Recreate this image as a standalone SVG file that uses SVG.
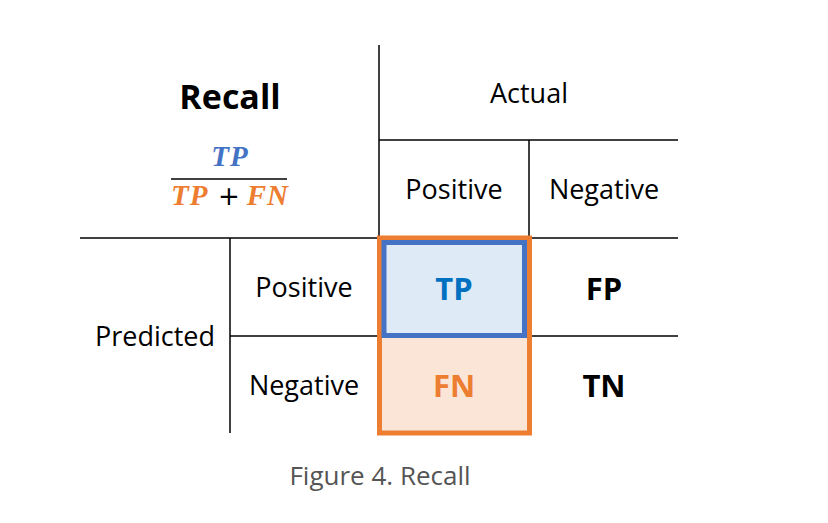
<svg xmlns="http://www.w3.org/2000/svg" width="828" height="523" viewBox="0 0 828 523">
  <style>
    .grid { stroke: #000; stroke-width: 1.5; fill: none; }
    .lbl { font-family: "Open Sans", "Liberation Sans", sans-serif; font-size: 27px; fill: #000; text-anchor: middle; }
    .cell { font-family: "Open Sans", "Liberation Sans", sans-serif; font-size: 31px; font-weight: bold; text-anchor: middle; }
    .math { font-family: "Liberation Serif", serif; font-size: 29px; font-weight: bold; font-style: italic; letter-spacing: 1px; }
  </style>
  <rect width="828" height="523" fill="#fff"/>

  <g id="connectors">
    <line class="grid" x1="379" y1="45" x2="379" y2="433"/>
    <line class="grid" x1="379" y1="140" x2="678" y2="140"/>
    <line class="grid" x1="529" y1="140" x2="529" y2="433"/>
    <line class="grid" x1="80" y1="238" x2="678" y2="238"/>
    <line class="grid" x1="230" y1="238" x2="230" y2="433"/>
    <line class="grid" x1="230" y1="336" x2="678" y2="336"/>
  </g>

  <g id="title">
    <text x="230" y="109" font-family="Open Sans, Liberation Sans, sans-serif" font-size="34" font-weight="bold" text-anchor="middle">Recall</text>
  </g>

  <g id="formula">
    <text class="math" x="230" y="166" text-anchor="middle" fill="#4472C4">TP</text>
    <line x1="171" y1="179" x2="287" y2="179" stroke="#000" stroke-width="1.5"/>
    <text class="math" x="171" y="205" fill="#ED7D31">TP</text>
    <text x="229" y="205" font-family="DejaVu Sans, sans-serif" font-size="26" fill="#000" text-anchor="middle">+</text>
    <text class="math" x="289" y="205" fill="#ED7D31" text-anchor="end">FN</text>
  </g>

  <g id="actual"><text class="lbl" x="529" y="103">Actual</text></g>
  <g id="actual-positive"><text class="lbl" x="454" y="199">Positive</text></g>
  <g id="actual-negative"><text class="lbl" x="604" y="199">Negative</text></g>
  <g id="predicted"><text class="lbl" x="155" y="346">Predicted</text></g>
  <g id="predicted-positive"><text class="lbl" x="304" y="297">Positive</text></g>
  <g id="predicted-negative"><text class="lbl" x="304" y="395">Negative</text></g>

  <g id="fn">
    <rect x="379.5" y="238" width="150" height="195" fill="#FBE5D6" stroke="#ED7D31" stroke-width="5"/>
    <text class="cell" x="454" y="397" fill="#ED7D31">FN</text>
  </g>
  <g id="tp">
    <rect x="384" y="242.5" width="140.5" height="93" fill="#DEEBF7" stroke="#4472C4" stroke-width="5"/>
    <text class="cell" x="454" y="300" fill="#0070C0">TP</text>
  </g>
  <g id="fp"><text class="cell" x="604" y="300" fill="#000">FP</text></g>
  <g id="tn"><text class="cell" x="604" y="397" fill="#000">TN</text></g>

  <g id="caption">
    <text x="380" y="485" font-family="Open Sans, Liberation Sans, sans-serif" font-size="26" fill="#555" text-anchor="middle">Figure 4. Recall</text>
  </g>
</svg>
